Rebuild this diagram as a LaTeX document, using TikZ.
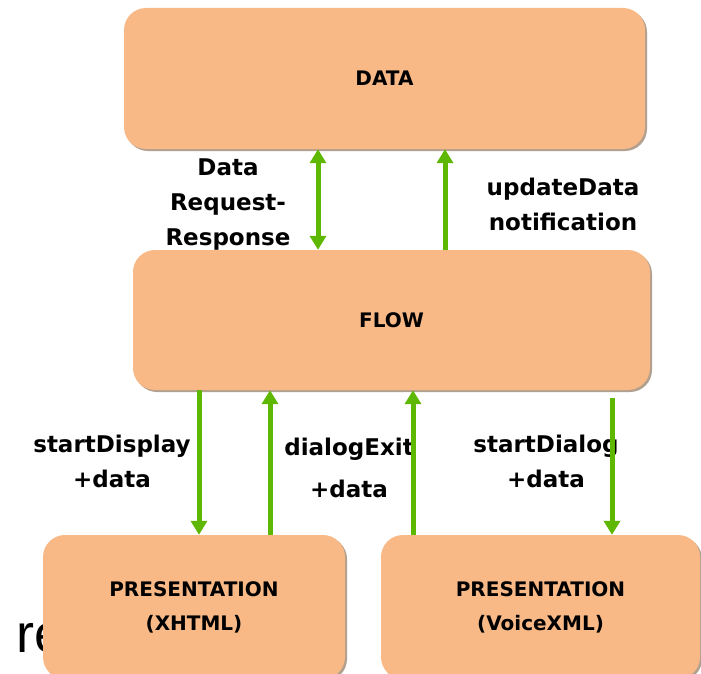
\documentclass[tikz,border=0pt]{standalone}
\usepackage{fontspec}
\setmainfont{DejaVu Sans}
\newfontfamily\fragfont{Liberation Sans}
\usepackage{tikz}
\usetikzlibrary{positioning, arrows.meta, shadows}

\definecolor{boxorange}{RGB}{248,185,135}
\definecolor{boxshadow}{RGB}{178,160,142}
\definecolor{arrowgreen}{RGB}{94,183,0}

\tikzset{
    layer/.style={fill=boxorange, rounded corners=22pt, inner sep=0pt, align=center,
        font=\bfseries\fontsize{20}{34}\selectfont,
        drop shadow={shadow xshift=2pt, shadow yshift=-2pt, fill=boxshadow, opacity=1}},
    msg/.style={inner sep=0pt, align=center, font=\bfseries\fontsize{23}{35}\selectfont},
    flowarrow/.style={draw=arrowgreen, line width=5pt, >={Triangle[width=16pt,length=14pt]}}
}

\begin{document}
\begin{tikzpicture}[x=1pt, y=-1pt]
        \useasboundingbox (0,0) rectangle (701,674);
        \clip (0,0) rectangle (701,674);

        \node[anchor=base west, inner sep=0pt, font=\fragfont\fontsize{54}{54}\selectfont] (frag) at (16,652) {re};

        \node[layer, minimum width=521pt, minimum height=141pt] (data) at (384.5,78.5) {DATA};
        \node[layer, minimum width=517pt, minimum height=140pt] (flow) at (391.5,320) {FLOW};
        \node[layer, minimum width=302pt, minimum height=144pt] (xhtml) at (194,607) {PRESENTATION\\(XHTML)};
        \node[layer, minimum width=319pt, minimum height=144pt] (voice) at (540.5,607) {PRESENTATION\\(VoiceXML)};

        \node[msg] (reqlbl) at (228,205) {Data\\Request-\\Response};
        \node[msg] (updlbl) at (563,204) {updateData\\notification};
        \node[msg] (displbl) at (112,461) {startDisplay\\+data};
        \node[msg] (exitlbl) at (349,468) {dialogExit\\[7pt]+data};
        \node[msg] (dlglbl) at (546,461) {startDialog\\+data};

        \draw[flowarrow, <->] (data.south -| 318,0) -- (flow.north -| 318,0);
        \draw[flowarrow, ->] (flow.north -| 445,0) -- (data.south -| 445,0);

        \draw[flowarrow, ->] (flow.south -| 199,0) -- (xhtml.north -| 199,0);
        \draw[flowarrow, ->] (xhtml.north -| 270,0) -- (flow.south -| 270,0);
        \draw[flowarrow, ->] (voice.north -| 413,0) -- (flow.south -| 413,0);
        \draw[flowarrow, ->, shorten <=8pt] (flow.south -| 612,0) -- (voice.north -| 612,0);
\end{tikzpicture}
\end{document}
